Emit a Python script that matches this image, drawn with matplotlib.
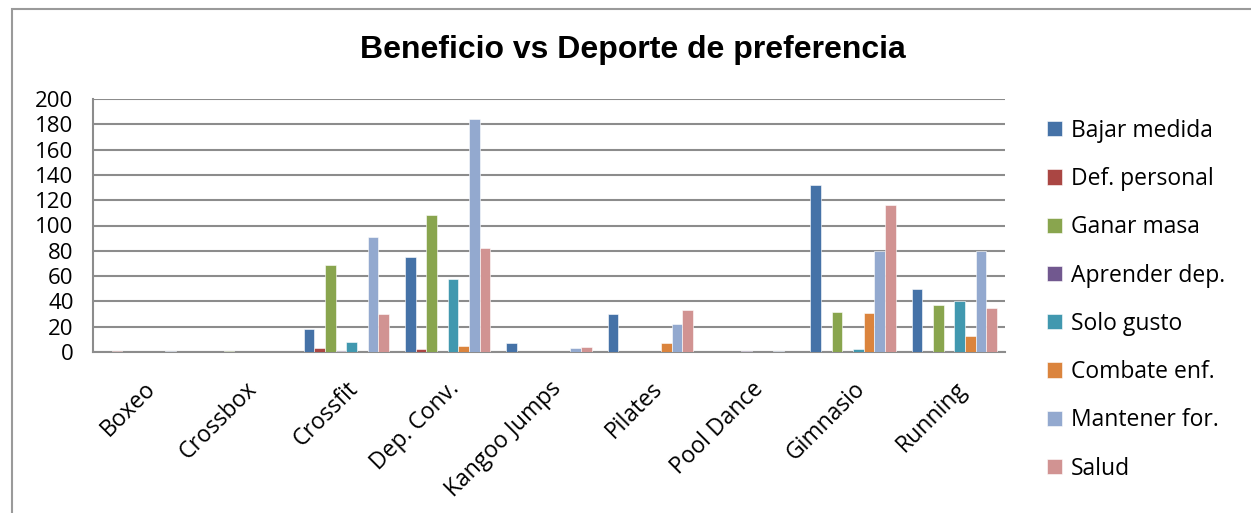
import numpy as np
import matplotlib.pyplot as plt
from matplotlib.patches import Rectangle

# Deportes (categorias del eje X)
deportes = ["Boxeo", "Crossbox", "Crossfit", "Dep. Conv.", "Kangoo Jumps",
            "Pilates", "Pool Dance", "Gimnasio", "Running"]

# Beneficio buscado por deporte
bajar_medida = [0, 0, 18, 75, 7, 30, 0, 132, 50]
def_personal = [1, 0, 3, 2, 0, 0, 0, 0, 0]
ganar_masa = [0, 1, 69, 108, 0, 0, 0, 32, 37]
aprender_dep = [0, 0, 1, 0, 0, 0, 1, 0, 0]
solo_gusto = [0, 0, 8, 58, 0, 0, 0, 2, 40]
combate_enf = [0, 0, 0, 5, 0, 7, 0, 31, 13]
mantener_for = [1, 0, 91, 184, 3, 22, 1, 80, 80]
salud = [0, 0, 30, 82, 4, 33, 0, 116, 35]

series = [
    ("Bajar medida", bajar_medida, "#4572A7"),
    ("Def. personal", def_personal, "#AA4643"),
    ("Ganar masa", ganar_masa, "#89A54E"),
    ("Aprender dep.", aprender_dep, "#71588F"),
    ("Solo gusto", solo_gusto, "#4198AF"),
    ("Combate enf.", combate_enf, "#DB843D"),
    ("Mantener for.", mantener_for, "#93A9CF"),
    ("Salud", salud, "#D19392"),
]

plt.rcParams["font.family"] = ["Open Sans", "DejaVu Sans"]

fig = plt.figure(figsize=(12.51, 5.13), dpi=100)
# marco exterior del grafico
fig.patches.append(Rectangle((12 / 1251, -0.1), 1.2, 1 - 9 / 513 + 0.1,
                             transform=fig.transFigure, fill=False,
                             edgecolor="#9A9A9A", linewidth=1.5))

ax = fig.add_axes([93 / 1251, 1 - 352 / 513, (1005 - 93) / 1251, (352 - 99) / 513])

x = np.arange(len(deportes))
w = 1 / 9.5
for i, (nombre, vals, color) in enumerate(series):
    ax.bar(x + (i - 3.5) * w, vals, width=w, color=color, label=nombre,
           edgecolor="white", linewidth=0.4, zorder=3)

ax.set_xlim(-0.5, len(deportes) - 0.5)
ax.set_ylim(0, 200)
ax.set_yticks(range(0, 201, 20))
ax.yaxis.grid(True, color="#8C8C8C", linewidth=1.5, zorder=0)
ax.tick_params(axis="y", length=0, labelsize=16, pad=14)
ax.tick_params(axis="x", length=0, labelsize=16.5, pad=18)
ax.set_xticks(x)
ax.set_xticklabels(deportes, rotation=45, ha="right", rotation_mode="anchor")
for lado in ["top", "right"]:
    ax.spines[lado].set_visible(False)
for lado in ["left", "bottom"]:
    ax.spines[lado].set_color("#8C8C8C")
    ax.spines[lado].set_linewidth(1.5)

fig.text(633 / 1251, 1 - 50 / 513, "Beneficio vs Deporte de preferencia",
         ha="center", va="center", fontsize=23, fontweight="bold",
         family=["Liberation Sans", "DejaVu Sans"])

handles, labels = ax.get_legend_handles_labels()
fig.legend(handles, labels, loc="upper left",
           bbox_to_anchor=(1026 / 1251, 1 - 98 / 513), frameon=False,
           fontsize=16.5, handlelength=0.65, handleheight=0.65,
           handletextpad=0.4, labelspacing=1.06)

fig.savefig("out.png", dpi=100)
